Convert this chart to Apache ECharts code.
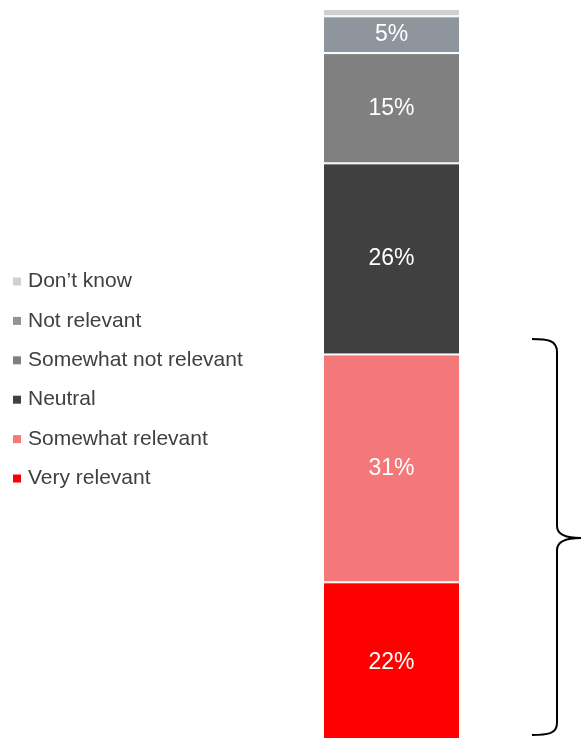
<!DOCTYPE html>
<html>
<head>
<meta charset="utf-8">
<style>
  html, body { margin: 0; padding: 0; background: #fff; }
  #chart { width: 582px; height: 738px; }
</style>
<script src="https://cdn.jsdelivr.net/npm/echarts@6/dist/echarts.min.js"></script>
</head>
<body>
<div id="chart"></div>
<script>
// Survey answer shares (%), stacked bottom to top
const categories = ['All'];
const seriesNames = ['Very relevant', 'Somewhat relevant', 'Neutral', 'Somewhat not relevant', 'Not relevant', "Don\u2019t know"];
const seriesValues = [22, 31, 26, 15, 5, 1];
const seriesColors = ['#FF0000', '#F4777A', '#404040', '#808080', '#8E959C', '#D0D0D0'];
const legendOrder = ["Don\u2019t know", 'Not relevant', 'Somewhat not relevant', 'Neutral', 'Somewhat relevant', 'Very relevant'];

const FONT = '"Liberation Sans", Arial, sans-serif';
const chart = echarts.init(document.getElementById('chart'), null, { renderer: 'canvas' });

const series = seriesNames.map((name, i) => ({
  name: name,
  type: 'bar',
  stack: 'total',
  barWidth: '100%',
  data: [seriesValues[i]],
  itemStyle: { color: seriesColors[i], borderColor: '#ffffff', borderWidth: 1 },
  label: {
    show: seriesValues[i] >= 3,
    position: 'inside',
    color: '#ffffff',
    fontFamily: FONT,
    fontSize: 23,
    formatter: p => p.value + '%'
  },
  emphasis: { disabled: true }
}));

// Curly brace grouping the two "relevant" answers
const braceStyle = { stroke: '#000000', lineWidth: 2, fill: 'none' };
function curve(x1, y1, cpx1, cpy1, cpx2, cpy2, x2, y2) {
  return { type: 'bezierCurve', shape: { x1, y1, cpx1, cpy1, cpx2, cpy2, x2, y2 }, style: braceStyle, silent: true };
}
function vline(x, y1, y2) {
  return { type: 'line', shape: { x1: x, y1: y1, x2: x, y2: y2 }, style: braceStyle, silent: true };
}
const brace = [
  curve(532, 339, 547, 339, 557, 340, 557, 352),
  vline(557, 352, 526),
  curve(557, 526, 557, 534, 566, 538, 581, 538),
  curve(581, 538, 566, 538, 557, 542, 557, 550),
  vline(557, 550, 723),
  curve(557, 723, 557, 734, 547, 735, 532, 735)
];

chart.setOption({
  animation: false,
  grid: { left: 323, width: 137, top: 9, height: 735, outerBoundsMode: 'none', containLabel: false },
  xAxis: { type: 'category', data: categories, show: false },
  yAxis: { type: 'value', min: 0, max: 100, show: false },
  legend: {
    orient: 'vertical',
    left: 13,
    top: 271,
    padding: 0,
    data: legendOrder,
    icon: 'rect',
    itemWidth: 8,
    itemHeight: 8,
    itemGap: 18.4,
    selectedMode: false,
    itemStyle: { borderWidth: 0 },
    textStyle: { fontFamily: FONT, fontSize: 21, color: '#404040', lineHeight: 20, padding: [0, 0, 0, 2] }
  },
  graphic: brace,
  series: series
});
</script>
</body>
</html>
